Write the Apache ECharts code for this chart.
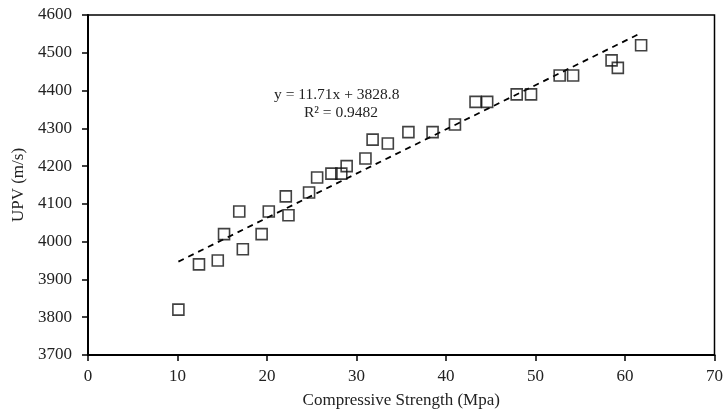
<!DOCTYPE html>
<html>
<head>
<meta charset="utf-8">
<script src="https://cdn.jsdelivr.net/npm/echarts@6/dist/echarts.min.js"></script>
<style>
  html, body { margin: 0; padding: 0; background: #fff; }
  #chart { width: 726px; height: 416px; }
</style>
</head>
<body>
<div id="chart"></div>
<script>
// compressive strength (Mpa) vs UPV (m/s)
var strength = [10.1, 12.4, 14.5, 15.2, 16.9, 17.3, 19.4, 20.2, 22.1, 22.4,
  24.7, 25.6, 27.2, 28.3, 28.9, 31.0, 31.8, 33.5, 35.8, 38.5,
  41.0, 43.3, 44.6, 47.9, 49.5, 52.7, 54.2, 58.5, 59.2, 61.8]
var upv = [3820, 3940, 3950, 4020, 4080, 3980, 4020, 4080, 4120, 4070,
  4130, 4170, 4180, 4180, 4200, 4220, 4270, 4260, 4290, 4290,
  4310, 4370, 4370, 4390, 4390, 4440, 4440, 4480, 4460, 4520]

// linear trendline from the fitted equation
var slope = 11.71
var intercept = 3828.8
var trendX = [10.1, 61.8]

var xTicks = [0, 70, 10]
var yTicks = [3700, 4600, 100]

var points = strength.map(function (x, i) { return [x, upv[i]] })
var trend = trendX.map(function (x) { return [x, slope * x + intercept] })

var font = 'Liberation Serif, Times New Roman, serif'

var myChart = echarts.init(document.getElementById('chart'))
var option = {
  backgroundColor: '#fff',
  animation: false,
  grid: {
    left: 88,
    right: 10,
    top: 15,
    bottom: 61,
    show: true,
    borderColor: '#000',
    borderWidth: 1.5
  },
  xAxis: {
    type: 'value',
    min: xTicks[0],
    max: xTicks[1],
    interval: xTicks[2],
    name: 'Compressive Strength (Mpa)',
    nameLocation: 'middle',
    nameGap: 37,
    nameTextStyle: { color: '#222', fontFamily: font, fontSize: 17 },
    axisLine: { lineStyle: { color: '#000', width: 2 } },
    axisTick: { inside: false, length: 6, lineStyle: { color: '#000', width: 1.5 } },
    axisLabel: { color: '#222', fontFamily: font, fontSize: 17, margin: 13 },
    splitLine: { show: false }
  },
  yAxis: {
    type: 'value',
    min: yTicks[0],
    max: yTicks[1],
    interval: yTicks[2],
    name: 'UPV (m/s)',
    nameLocation: 'middle',
    nameGap: 61,
    nameTextStyle: { color: '#222', fontFamily: font, fontSize: 17 },
    axisLine: { lineStyle: { color: '#000', width: 2 } },
    axisTick: { inside: false, length: 6, lineStyle: { color: '#000', width: 1.5 } },
    axisLabel: {
      color: '#222', fontFamily: font, fontSize: 17, margin: 16,
      formatter: function (v) { return String(v) }
    },
    splitLine: { show: false }
  },
  graphic: [
    {
      type: 'text', left: 274, top: 87,
      style: { text: 'y = 11.71x + 3828.8', font: '15.5px ' + font, fill: '#222' }
    },
    {
      type: 'text', left: 304, top: 105,
      style: { text: 'R\u00b2 = 0.9482', font: '15.5px ' + font, fill: '#222' }
    }
  ],
  series: [
    {
      name: 'trend',
      type: 'line',
      data: trend,
      symbol: 'none',
      lineStyle: { color: '#000', width: 1.8, type: [6, 5] },
      z: 1
    },
    {
      name: 'UPV',
      type: 'scatter',
      data: points,
      symbol: 'rect',
      symbolSize: 11,
      itemStyle: { color: 'rgba(255,255,255,0)', borderColor: '#111', borderWidth: 1.6 },
      z: 2
    }
  ]
}
myChart.setOption(option)
</script>
</body>
</html>
